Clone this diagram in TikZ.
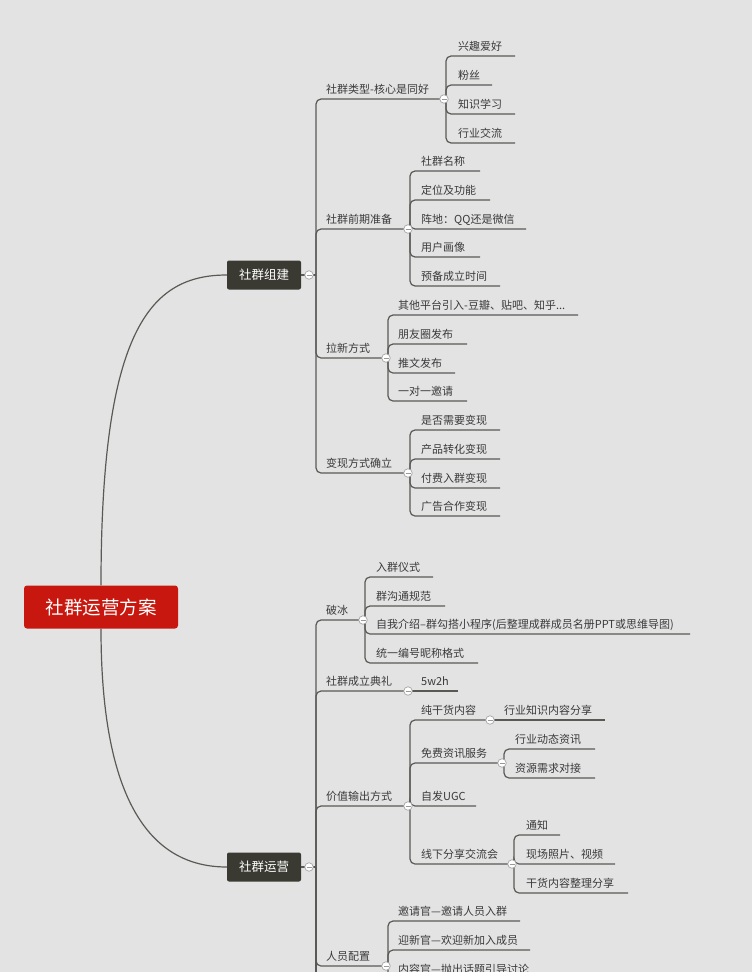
\documentclass[tikz,border=0pt]{standalone}
\usepackage{fontspec}
\setmainfont{Noto Sans CJK SC}
\begin{document}
\begin{tikzpicture}[x=1pt,y=-1pt,
  ln/.style={draw=lineC,line width=1.2pt,rounded corners=5pt},
  lbl/.style={anchor=base west,inner sep=0pt,font=\fontsize{11}{12}\selectfont,text=txtC},
  col/.style={circle,draw=gray!70,fill=white,line width=0.7pt,minimum size=8.5pt,inner sep=0pt},
  topic/.style={fill=boxC,rounded corners=2pt,text=white,minimum width=74pt,minimum height=29pt,font=\fontsize{12.5}{14}\selectfont}]
\definecolor{lineC}{HTML}{5A5A55}
\definecolor{txtC}{HTML}{3A3A3A}
\definecolor{boxC}{HTML}{3A3A32}
\definecolor{bgC}{HTML}{E3E3E3}
\definecolor{redC}{HTML}{C8170E}
\useasboundingbox (0,0) rectangle (752,972);
\clip (0,0) rectangle (752,972);
\fill[bgC] (0,0) rectangle (752,972);
\newcommand{\mmkid}[6]{% barx, parent y, y, xend, textx, text
  \draw[ln] (#1,#2) -- (#1,#3) -- (#4,#3);
  \node[lbl] at (#5,#3-6) {#6};}
\newcommand{\mmcol}[2]{\node[col] at (#1,#2) {}; \draw[gray!80,line width=0.7pt] (#1-2.5,#2) -- (#1+2.5,#2);}
% root
\node[fill=redC,rounded corners=3pt,text=white,minimum width=154pt,minimum height=43pt,font=\fontsize{18.5}{20}\selectfont] (root) at (101,607) {社群运营方案};
\node[topic] (a) at (264,275) {社群组建};
\node[topic] (b) at (264,867) {社群运营};
\draw[ln] (root.north) .. controls (101,330) and (150,275) .. (a.west);
\draw[ln] (root.south) .. controls (101,800) and (150,867) .. (b.west);
% group 1
\draw[ln] (a.east) -- (316,275);
\mmkid{316}{275}{99}{444}{326}{社群类型-核心是同好}
\mmkid{316}{275}{229}{408}{326}{社群前期准备}
\mmkid{316}{275}{358}{386}{326}{拉新方式}
\mmkid{316}{275}{473}{408}{326}{变现方式确立}
\mmkid{446}{99}{56}{515}{458}{兴趣爱好}
\mmkid{446}{99}{85}{492}{458}{粉丝}
\mmkid{446}{99}{114}{515}{458}{知识学习}
\mmkid{446}{99}{143}{515}{458}{行业交流}
\mmkid{410}{229}{171}{480}{421}{社群名称}
\mmkid{410}{229}{200}{490}{421}{定位及功能}
\mmkid{410}{229}{229}{526}{421}{阵地：QQ还是微信}
\mmkid{410}{229}{257}{480}{421}{用户画像}
\mmkid{410}{229}{286}{500}{421}{预备成立时间}
\mmkid{388}{358}{315}{578}{398}{其他平台引入-豆瓣、贴吧、知乎...}
\mmkid{388}{358}{344}{467}{398}{朋友圈发布}
\mmkid{388}{358}{373}{455}{398}{推文发布}
\mmkid{388}{358}{401}{467}{398}{一对一邀请}
\mmkid{410}{473}{430}{500}{421}{是否需要变现}
\mmkid{410}{473}{459}{500}{421}{产品转化变现}
\mmkid{410}{473}{488}{500}{421}{付费入群变现}
\mmkid{410}{473}{516}{500}{421}{广告合作变现}
% group 2
\draw[ln] (b.east) -- (316,867);
\draw[ln] (316,867) -- (316,990);
\mmkid{316}{867}{620}{363}{326}{破冰}
\mmkid{316}{867}{691}{408}{326}{社群成立典礼}
\mmkid{316}{867}{806}{408}{326}{价值输出方式}
\mmkid{316}{867}{966}{386}{326}{人员配置}
\mmkid{365}{620}{577}{433}{376}{入群仪式}
\mmkid{365}{620}{606}{445}{376}{群沟通规范}
\mmkid{365}{620}{634}{690}{376}{自我介绍--群勾搭小程序(后整理成群成员名册PPT或思维导图)}
\mmkid{365}{620}{663}{478}{376}{统一编号昵称格式}
\draw[ln] (408,691) -- (458,691);
\node[lbl] at (421,685) {5w2h};
\mmkid{410}{806}{720}{490}{421}{纯干货内容}
\mmkid{410}{806}{763}{502}{421}{免费资讯服务}
\mmkid{410}{806}{806}{476}{421}{自发UGC}
\mmkid{410}{806}{864}{512}{421}{线下分享交流会}
\draw[ln] (490,720) -- (605,720);
\node[lbl] at (504,714) {行业知识内容分享};
\mmkid{504}{763}{749}{595}{515}{行业动态资讯}
\mmkid{504}{763}{778}{595}{515}{资源需求对接}
\mmkid{514}{864}{835}{560}{526}{通知}
\mmkid{514}{864}{864}{615}{526}{现场照片、视频}
\mmkid{514}{864}{893}{628}{526}{干货内容整理分享}
\mmkid{388}{966}{921}{520}{398}{邀请官—邀请人员入群}
\mmkid{388}{966}{950}{530}{398}{迎新官—欢迎新加入成员}
\mmkid{388}{966}{979}{530}{398}{内容官—抛出话题引导讨论}
% collapse markers
\mmcol{309}{275}\mmcol{444}{99}\mmcol{408}{229}\mmcol{386}{358}\mmcol{408}{473}
\mmcol{309}{867}\mmcol{363}{620}\mmcol{408}{691}\mmcol{408}{806}\mmcol{386}{966}
\mmcol{490}{720}\mmcol{502}{763}\mmcol{512}{864}
\end{tikzpicture}
\end{document}
